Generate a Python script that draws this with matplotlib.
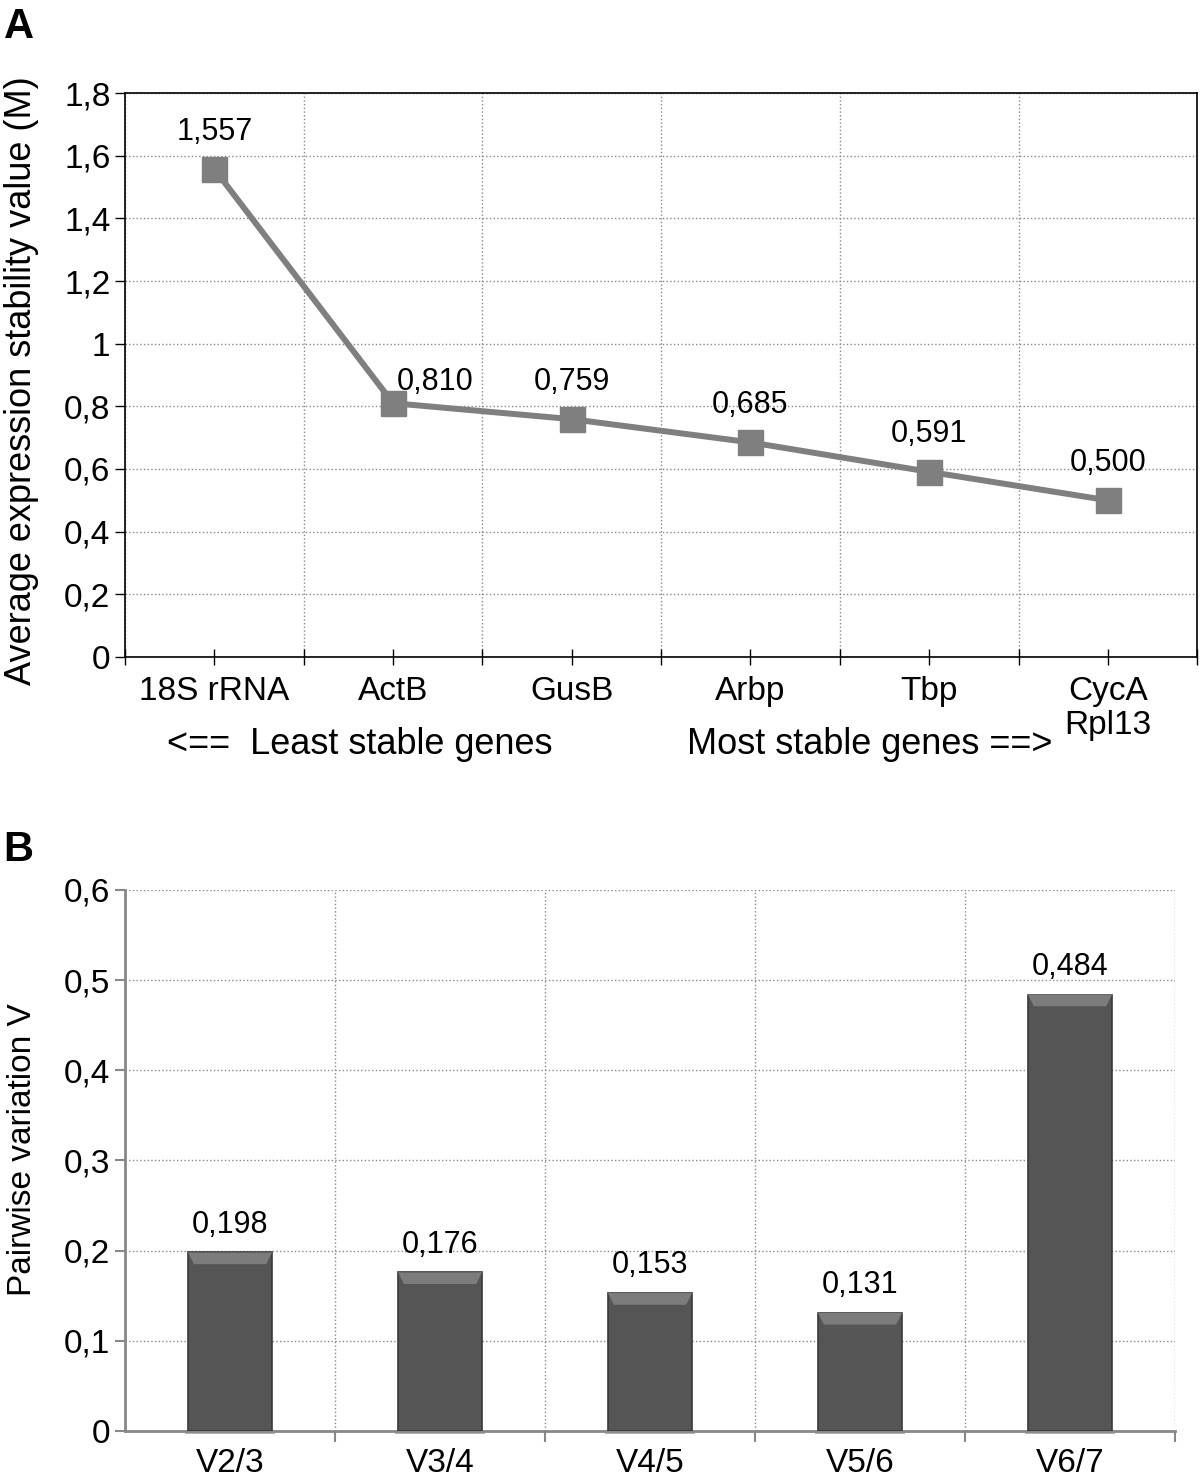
import numpy as np
import matplotlib
matplotlib.use('Agg')
import matplotlib.pyplot as plt
from matplotlib.patches import Polygon
from matplotlib.ticker import FixedLocator, FuncFormatter

plt.rcParams['font.family'] = ['Liberation Sans', 'DejaVu Sans']

# Panel A: geNorm stability values
genes = ['18S rRNA', 'ActB', 'GusB', 'Arbp', 'Tbp', 'CycA\nRpl13']
m_values = [1.557, 0.810, 0.759, 0.685, 0.591, 0.500]
m_ticks = [0, 0.2, 0.4, 0.6, 0.8, 1.0, 1.2, 1.4, 1.6, 1.8]

# Panel B: pairwise variation
pairs = ['V2/3', 'V3/4', 'V4/5', 'V5/6', 'V6/7']
v_values = [0.198, 0.176, 0.153, 0.131, 0.484]
v_ticks = [0, 0.1, 0.2, 0.3, 0.4, 0.5, 0.6]

FS_VAL = 22    # value labels
FS_TICK = 24   # tick labels
FS_LAB = 26    # axis label / annotations


def comma(v, pos=None):
    return f'{v:g}'.replace('.', ',')


fig = plt.figure(figsize=(12, 14.84), dpi=100)

# ---------------- Panel A ----------------
axA = fig.add_axes([0.1042, 0.5573, 0.8935, 0.3800])
x = np.arange(len(genes))
axA.plot(x, m_values, color='#7f7f7f', lw=4.3, marker='s', markersize=18,
         markerfacecolor='#7f7f7f', markeredgecolor='#7f7f7f',
         solid_joinstyle='round', zorder=3)
for i, v in enumerate(m_values):
    off = (30, 15) if i == 1 else (0, 27)
    axA.annotate(f'{v:.3f}'.replace('.', ','), (x[i], v), xytext=off,
                 textcoords='offset points', ha='center', va='center',
                 fontsize=FS_VAL, zorder=4)

axA.set_xlim(-0.5, len(genes) - 0.5)
axA.set_ylim(0, 1.8)
axA.set_xticks(x)
axA.set_xticklabels(genes, fontsize=FS_TICK, linespacing=1.1)
axA.xaxis.set_minor_locator(FixedLocator(np.arange(-0.5, len(genes), 1.0)))
axA.set_yticks(m_ticks)
axA.yaxis.set_major_formatter(FuncFormatter(comma))
axA.tick_params(axis='y', labelsize=FS_TICK, direction='out', length=7,
                width=1)
axA.tick_params(axis='x', which='both', direction='inout', length=12,
                width=1, pad=8)
axA.grid(True, axis='y', which='major', ls=':', color='#888888', lw=1)
axA.grid(True, axis='x', which='minor', ls=':', color='#888888', lw=1)
for s in axA.spines.values():
    s.set_color('black')
    s.set_linewidth(1.2)
axA.set_ylabel('Average expression stability value (M)', fontsize=FS_LAB)
axA.yaxis.set_label_coords(-0.080, 0.49)
axA.text(0.219, -0.155, '<==  Least stable genes', transform=axA.transAxes,
         ha='center', va='center', fontsize=FS_LAB)
axA.text(0.695, -0.155, 'Most stable genes ==>', transform=axA.transAxes,
         ha='center', va='center', fontsize=FS_LAB)

# ---------------- Panel B ----------------
axB = fig.add_axes([0.1042, 0.0357, 0.8750, 0.3646])
xb = np.arange(len(pairs))
bars = axB.bar(xb, v_values, width=0.4, color='#555555',
               edgecolor='#3a3a3a', linewidth=1.2, zorder=3)
# soft bevel on the top edge of every bar plus a faint base shadow
for b in bars:
    x0, w, h = b.get_x(), b.get_width(), b.get_height()
    d = 0.07 * w
    dh = 0.013
    axB.add_patch(Polygon([[x0, h], [x0 + w, h], [x0 + w - d, h - dh],
                           [x0 + d, h - dh]], closed=True,
                          facecolor='#7c7c7c', edgecolor='none', zorder=4))
    axB.add_patch(Polygon([[x0 - 0.04 * w, 0], [x0 + 1.04 * w, 0],
                           [x0 + 1.04 * w, -0.003], [x0 - 0.04 * w, -0.003]],
                          closed=True, facecolor='#b0b0b0', edgecolor='none',
                          zorder=2, clip_on=False))
    axB.annotate(f'{h:.3f}'.replace('.', ','), (b.get_x() + w / 2, h),
                 xytext=(0, 20), textcoords='offset points', ha='center',
                 va='center', fontsize=FS_VAL, zorder=5)

axB.set_xlim(-0.5, len(pairs) - 0.5)
axB.set_ylim(0, 0.6)
axB.set_xticks(xb)
axB.set_xticklabels(pairs, fontsize=FS_TICK)
axB.xaxis.set_minor_locator(FixedLocator(np.arange(0.5, len(pairs), 1.0)))
axB.set_yticks(v_ticks)
axB.yaxis.set_major_formatter(FuncFormatter(comma))
axB.tick_params(axis='y', labelsize=FS_TICK, direction='out', length=7,
                width=1.5, color='#888888')
axB.tick_params(axis='x', which='major', length=0, pad=12)
axB.tick_params(axis='x', which='minor', direction='out', length=8,
                width=1.5, color='#888888')
axB.grid(True, axis='y', which='major', ls=':', color='#888888', lw=1)
axB.grid(True, axis='x', which='minor', ls=':', color='#888888', lw=1)
axB.set_axisbelow(True)
for side in ['top', 'right']:
    axB.spines[side].set_visible(False)
for side in ['left', 'bottom']:
    axB.spines[side].set_color('#888888')
    axB.spines[side].set_linewidth(2)
axB.set_ylabel('Pairwise variation V', fontsize=FS_TICK)
axB.yaxis.set_label_coords(-0.083, 0.52)

fig.text(0.003, 0.995, 'A', fontsize=30, fontweight='bold', va='top')
fig.text(0.003, 0.441, 'B', fontsize=30, fontweight='bold', va='top')

fig.savefig('out.png', dpi=100)
